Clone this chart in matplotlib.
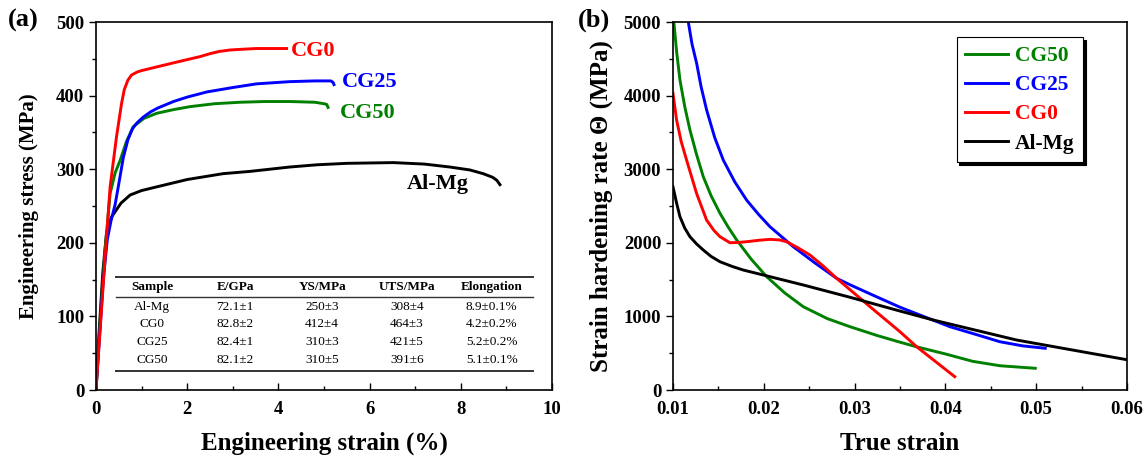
# plot.py
# Tensile curves (a) and strain hardening rate (b) for Al-Mg and CG samples.

import matplotlib
matplotlib.use('Agg')
import matplotlib.pyplot as plt
from matplotlib.ticker import MultipleLocator

plt.rcParams['font.family'] = ['Liberation Serif', 'DejaVu Serif']
plt.rcParams['font.weight'] = 'bold'
plt.rcParams['axes.labelweight'] = 'bold'

# (a) engineering stress-strain, strain in %, stress in MPa
cg0_strain = [0, 0.1, 0.2, 0.31, 0.45, 0.56, 0.62, 0.7, 0.78, 0.9, 1.0, 1.33, 1.8, 2.28, 2.5, 2.7, 2.94, 3.2, 3.52, 4.18]
cg0_stress = [0, 90, 180, 276, 344, 389, 408, 421, 428, 432, 434, 439, 446, 453, 457, 460, 462, 463, 464, 464]
cg25_strain = [0, 0.08, 0.16, 0.25, 0.33, 0.42, 0.5, 0.6, 0.7, 0.8, 0.9, 1.04, 1.2, 1.35, 1.7, 2.0, 2.43, 3.0, 3.52, 4.25, 4.8, 5.15, 5.2, 5.22]
cg25_stress = [0, 75, 150, 205, 230, 252, 280, 316, 340, 355, 363, 371, 378, 383, 392, 398, 405, 411, 416, 419, 420, 420, 418, 415]
cg50_strain = [0, 0.1, 0.2, 0.31, 0.42, 0.53, 0.67, 0.82, 1.05, 1.33, 1.7, 2.06, 2.6, 3.16, 3.7, 4.25, 4.8, 5.0, 5.06, 5.09]
cg50_stress = [0, 100, 190, 267, 295, 312, 338, 358, 369, 376, 381, 385, 389, 391, 392, 392, 391, 389, 388, 384]
almg_strain = [0, 0.05, 0.1, 0.15, 0.23, 0.3, 0.35, 0.45, 0.55, 0.75, 1.0, 1.33, 2.0, 2.79, 3.37, 4.25, 4.84, 5.5, 6.52, 7.2, 7.76, 8.2, 8.49, 8.7, 8.79, 8.86]
almg_stress = [0, 60, 110, 160, 213, 228, 236, 245, 254, 265, 271, 276, 286, 294, 297, 303, 306, 308, 309, 307, 303, 299, 294, 289, 285, 279]

# table inset
table_cols = ['Sample', 'E/GPa', 'YS/MPa', 'UTS/MPa', 'Elongation']
table_rows = [
    ['Al-Mg', '72.1\u00b11', '250\u00b13', '308\u00b14', '8.9\u00b10.1%'],
    ['CG0', '82.8\u00b12', '412\u00b14', '464\u00b13', '4.2\u00b10.2%'],
    ['CG25', '82.4\u00b11', '310\u00b13', '421\u00b15', '5.2\u00b10.2%'],
    ['CG50', '82.1\u00b12', '310\u00b15', '391\u00b16', '5.1\u00b10.1%'],
]

# (b) strain hardening rate vs true strain
cg50_eps = [0.0101, 0.0104, 0.01077, 0.0113, 0.01187, 0.0126, 0.01334, 0.0142, 0.01518, 0.0161, 0.01702, 0.0186, 0.02032,
            0.0223, 0.02435, 0.027, 0.0295, 0.0325, 0.035, 0.0368, 0.040, 0.043, 0.046, 0.0499]
cg50_theta = [5000, 4600, 4212, 3850, 3533, 3200, 2898, 2640, 2401, 2210, 2038, 1780, 1540,
              1320, 1132, 970, 860, 740, 650, 588, 490, 390, 330, 295]
cg25_eps = [0.01169, 0.0121, 0.01261, 0.0131, 0.01371, 0.0146, 0.01554, 0.0168, 0.01811, 0.0194, 0.02068, 0.02325,
            0.0256, 0.02803, 0.0295, 0.032, 0.035, 0.0378, 0.0405, 0.0435, 0.046, 0.0485, 0.051]
cg25_theta = [5000, 4700, 4438, 4120, 3804, 3430, 3125, 2830, 2581, 2390, 2219, 1947,
              1730, 1517, 1430, 1290, 1125, 990, 860, 750, 656, 600, 567]
cg0_eps = [0.01, 0.0104, 0.0109, 0.0115, 0.0126, 0.0137, 0.0145, 0.01518, 0.01628, 0.0172, 0.01811, 0.0195, 0.02068,
           0.0217, 0.02252, 0.0238, 0.02509, 0.0265, 0.02803, 0.0317, 0.035, 0.03684, 0.04103]
cg0_theta = [4031, 3668, 3380, 3125, 2672, 2310, 2170, 2083, 2001, 2005, 2015, 2035, 2047,
             2040, 2015, 1930, 1834, 1690, 1517, 1132, 792, 588, 181]
almg_eps = [0.01, 0.0104, 0.01077, 0.0113, 0.01187, 0.0126, 0.01334, 0.0142, 0.01518, 0.0165, 0.01775, 0.02068,
            0.02435, 0.0295, 0.035, 0.03867, 0.04785, 0.06015]
almg_theta = [2762, 2540, 2355, 2200, 2083, 1985, 1902, 1815, 1743, 1680, 1630, 1540,
              1427, 1260, 1073, 951, 679, 408]

fig = plt.figure(figsize=(11.48, 4.59), dpi=100)
ax1 = fig.add_axes([0.0836, 0.1503, 0.3972, 0.8017])
ax2 = fig.add_axes([0.5862, 0.1503, 0.3955, 0.8017])

lw = 2.1
ax1.plot(almg_strain, almg_stress, color='black', lw=lw)
ax1.plot(cg50_strain, cg50_stress, color='green', lw=lw)
ax1.plot(cg25_strain, cg25_stress, color='blue', lw=lw)
ax1.plot(cg0_strain, cg0_stress, color='red', lw=lw)

ax1.text(4.27, 461, 'CG0', color='red', fontsize=16, va='center')
ax1.text(5.4, 419, 'CG25', color='blue', fontsize=16, va='center')
ax1.text(5.35, 376, 'CG50', color='green', fontsize=16, va='center')
ax1.text(6.82, 280, 'Al-Mg', color='black', fontsize=16, va='center')

ax1.set_xlim(0, 10)
ax1.set_ylim(0, 500)
ax1.xaxis.set_major_locator(MultipleLocator(2))
ax1.xaxis.set_minor_locator(MultipleLocator(1))
ax1.yaxis.set_major_locator(MultipleLocator(100))
ax1.yaxis.set_minor_locator(MultipleLocator(50))
ax1.set_xlabel('Engineering strain (%)', fontsize=18, labelpad=10)
ax1.set_ylabel('Engineering stress (MPa)', fontsize=15, labelpad=12)

# inset table drawn in axes coordinates
col_x = [0.123, 0.305, 0.496, 0.682, 0.868]
row_y = [0.226, 0.179, 0.130, 0.082]
for x, name in zip(col_x, table_cols):
    ax1.text(x, 0.280, name, transform=ax1.transAxes, ha='center', va='center', fontsize=9.5, fontweight='bold')
for y, row in zip(row_y, table_rows):
    for x, cell in zip(col_x, row):
        ax1.text(x, y, cell, transform=ax1.transAxes, ha='center', va='center', fontsize=9.5, fontweight='normal')
for y, w in [(0.307, 1.4), (0.253, 1.0), (0.052, 1.4)]:
    ax1.plot([0.044, 0.958], [y, y], transform=ax1.transAxes, color='#333333', lw=w)

ax2.plot(cg50_eps, cg50_theta, color='green', lw=lw, label='CG50')
ax2.plot(cg25_eps, cg25_theta, color='blue', lw=lw, label='CG25')
ax2.plot(cg0_eps, cg0_theta, color='red', lw=lw, label='CG0')
ax2.plot(almg_eps, almg_theta, color='black', lw=lw, label='Al-Mg')

ax2.set_xlim(0.01, 0.06)
ax2.set_ylim(0, 5000)
ax2.xaxis.set_major_locator(MultipleLocator(0.01))
ax2.xaxis.set_minor_locator(MultipleLocator(0.005))
ax2.yaxis.set_major_locator(MultipleLocator(1000))
ax2.yaxis.set_minor_locator(MultipleLocator(500))
ax2.set_xlabel('True strain', fontsize=18, labelpad=10)
ax2.set_ylabel('Strain hardening rate \u0398 (MPa)', fontsize=18, labelpad=8)

leg = ax2.legend(loc='upper right', bbox_to_anchor=(0.903, 0.958), fontsize=15.5,
                 fancybox=False, edgecolor='black', framealpha=1,
                 shadow={'color': 'black', 'alpha': 1},
                 handlelength=2.0, handletextpad=0.3, labelspacing=0.42,
                 borderpad=0.4, borderaxespad=0)
leg.get_frame().set_linewidth(0.8)
for txt, line in zip(leg.get_texts(), leg.get_lines()):
    txt.set_color(line.get_color())
    txt.set_fontweight('bold')

for ax in (ax1, ax2):
    ax.tick_params(axis='y', which='both', direction='out', labelsize=13.5)
    ax.tick_params(axis='x', which='both', direction='in', labelsize=13.5, pad=8)
    ax.tick_params(which='major', length=5, width=1)
    ax.tick_params(which='minor', length=3, width=1)
    for s in ax.spines.values():
        s.set_linewidth(1.2)

fig.text(0.007, 0.956, '(a)', fontsize=19, fontweight='bold', va='center')
fig.text(0.503, 0.956, '(b)', fontsize=19, fontweight='bold', va='center')

fig.savefig('out.png', dpi=100)
